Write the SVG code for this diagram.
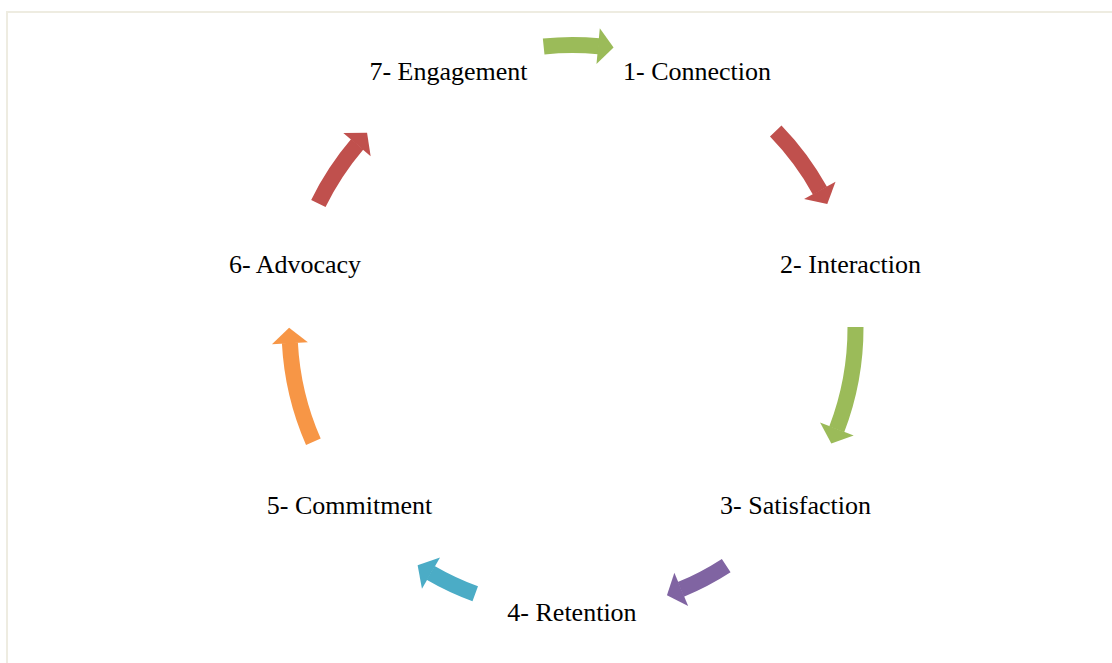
<svg xmlns="http://www.w3.org/2000/svg" width="1112" height="663" viewBox="0 0 1112 663">
<style>
.lbl{font-family:"Liberation Serif","Times New Roman",serif;font-size:26px;fill:#000;text-anchor:middle}
.shaft{fill:none;stroke-width:16}
</style>
<defs>
<polygon id="head" points="-0.5,-301 -0.5,-265 15,-283"/>
</defs>
<rect width="1112" height="663" fill="#fff"/>
<path d="M7,663 V12 H1112" fill="none" stroke="#EEECE1" stroke-width="2"/>
<g id="connectors" transform="translate(572.5,328)">
  <g id="a1"><circle class="shaft" r="283" pathLength="360" stroke="#9BBB59" stroke-dasharray="11.2 400" transform="rotate(-95.85)"/><use href="#head" fill="#9BBB59" transform="rotate(5.3)"/></g>
  <g id="a2"><circle class="shaft" r="283" pathLength="360" stroke="#C0504D" stroke-dasharray="15.1 400" transform="rotate(-44.1)"/><use href="#head" fill="#C0504D" transform="rotate(61)"/></g>
  <g id="a3"><circle class="shaft" r="283" pathLength="360" stroke="#9BBB59" stroke-dasharray="21.2 400" transform="rotate(-0.2)"/><use href="#head" fill="#9BBB59" transform="rotate(111)"/></g>
  <g id="a4"><circle class="shaft" r="283" pathLength="360" stroke="#8064A2" stroke-dasharray="10.4 400" transform="rotate(57.1)"/><use href="#head" fill="#8064A2" transform="rotate(157.5)"/></g>
  <g id="a5"><circle class="shaft" r="283" pathLength="360" stroke="#4BACC6" stroke-dasharray="10 400" transform="rotate(110.1)"/><use href="#head" fill="#4BACC6" transform="rotate(210.1)"/></g>
  <g id="a6"><circle class="shaft" r="283" pathLength="360" stroke="#F79646" stroke-dasharray="20.7 400" transform="rotate(156.3)"/><use href="#head" fill="#F79646" transform="rotate(267)"/></g>
  <g id="a7"><circle class="shaft" r="283" pathLength="360" stroke="#C0504D" stroke-dasharray="14.4 400" transform="rotate(206.1)"/><use href="#head" fill="#C0504D" transform="rotate(310.5)"/></g>
</g>
<g id="n1"><text class="lbl" x="697" y="80">1- Connection</text></g>
<g id="n2"><text class="lbl" x="850.5" y="273">2- Interaction</text></g>
<g id="n3"><text class="lbl" x="795.5" y="514">3- Satisfaction</text></g>
<g id="n4"><text class="lbl" x="572" y="621">4- Retention</text></g>
<g id="n5"><text class="lbl" x="349.5" y="514">5- Commitment</text></g>
<g id="n6"><text class="lbl" x="295" y="273">6- Advocacy</text></g>
<g id="n7"><text class="lbl" x="448.5" y="80">7- Engagement</text></g>
</svg>
